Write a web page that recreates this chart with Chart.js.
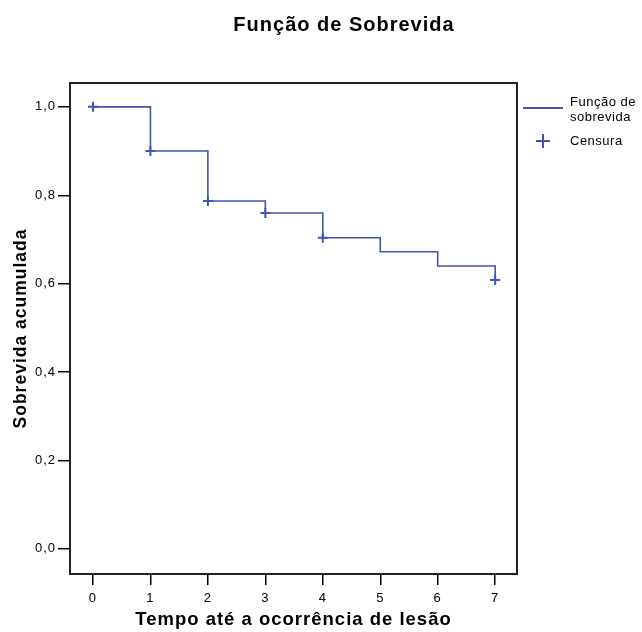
<!DOCTYPE html>
<html>
<head>
<meta charset="utf-8">
<script src="https://cdn.jsdelivr.net/npm/chart.js@4.4.1/dist/chart.umd.min.js"></script>
<style>
    body { margin: 0; background: #fff; }
    #wrap { position: relative; width: 642px; height: 632px; }
    #legend { position: absolute; left: 520px; top: 92px; width: 122px; font: 13px "Liberation Sans", Arial, sans-serif; letter-spacing: 0.5px; color: #000; }
    .swatch { position: absolute; left: 3px; top: 15px; width: 40px; height: 2px; background: #3f55b4; }
    .txt { position: absolute; left: 50px; top: 2px; line-height: 15px; white-space: nowrap; }
    .cross { position: absolute; left: 16px; top: 42px; width: 14px; height: 14px; }
    .cross:before { content: ''; position: absolute; left: 0; top: 6px; width: 14px; height: 2px; background: #3f55b4; }
    .cross:after { content: ''; position: absolute; left: 6px; top: 0; width: 2px; height: 14px; background: #3f55b4; }
</style>
</head>
<body>
<div id="wrap">
    <canvas id="survivalChart" width="642" height="632"></canvas>
    <div id="legend">
        <div class="swatch"></div>
        <div class="txt">Função de<br>sobrevida</div>
        <div class="cross"></div>
        <div class="txt" style="top: 41px;">Censura</div>
    </div>
</div>
<script>
const timePoints = [0, 1, 2, 3, 4, 5, 6, 7];
const survival = [1.0, 0.9, 0.787, 0.76, 0.704, 0.672, 0.64, 0.608];
const censorTimes = [0, 1, 2, 3, 4, 7];
const censorValues = [1.0, 0.9, 0.787, 0.76, 0.704, 0.608];
const xTicks = [0, 1, 2, 3, 4, 5, 6, 7];
const yTicks = [0, 0.2, 0.4, 0.6, 0.8, 1.0];

const blue = '#3f55b4';
const fontFamily = '"Liberation Sans", Arial, sans-serif';

const framePlugin = {
    id: 'frame',
    beforeDraw(chart) {
        // the reference text is a bit wider spaced than plain Arial
        chart.ctx.letterSpacing = '1px';
    },
    afterDraw(chart) {
        const ctx = chart.ctx;
        const a = chart.chartArea;
        ctx.save();
        ctx.strokeStyle = '#222';
        ctx.lineWidth = 2;
        ctx.strokeRect(a.left, a.top, a.right - a.left, a.bottom - a.top);
        // title
        ctx.fillStyle = '#000';
        ctx.font = 'bold 20px ' + fontFamily;
        ctx.textAlign = 'center';
        ctx.textBaseline = 'middle';
        ctx.fillText('Função de Sobrevida', 344, 25);
        ctx.restore();
    }
};

const ctx = document.getElementById('survivalChart').getContext('2d');

new Chart(ctx, {
    type: 'line',
    data: {
        datasets: [{
            label: 'Função de sobrevida',
            data: timePoints.map((t, i) => ({ x: t, y: survival[i] })),
            borderColor: blue,
            borderWidth: 1.6,
            stepped: 'before',
            pointRadius: 0,
            fill: false,
        }, {
            label: 'Censura',
            type: 'scatter',
            data: censorTimes.map((t, i) => ({ x: t, y: censorValues[i] })),
            pointStyle: 'cross',
            pointRadius: 5,
            borderColor: blue,
            borderWidth: 2,
            showLine: false,
        }],
    },
    options: {
        responsive: false,
        animation: false,
        layout: { padding: { top: 83, right: 125, left: 0, bottom: 0 } },
        plugins: {
            legend: { display: false },
            title: { display: false },
            tooltip: { enabled: false },
        },
        scales: {
            x: {
                type: 'linear',
                min: -0.4,
                max: 7.38,
                afterFit(s) { s.height = 58; },
                afterBuildTicks(s) { s.ticks = xTicks.map(v => ({ value: v })); },
                grid: { drawOnChartArea: false, drawTicks: true, tickLength: 11, color: '#000', lineWidth: 1.5 },
                border: { display: false },
                ticks: { color: '#000', padding: 6, font: { family: fontFamily, size: 13 }, maxRotation: 0 },
                title: { display: true, text: 'Tempo até a ocorrência de lesão', color: '#000', font: { family: fontFamily, size: 18.5, weight: 'bold' }, padding: { top: 0, bottom: 1 } },
            },
            y: {
                type: 'linear',
                min: -0.057,
                max: 1.054,
                afterFit(s) { s.width = 70; },
                afterBuildTicks(s) { s.ticks = yTicks.map(v => ({ value: v })); },
                grid: { drawOnChartArea: false, drawTicks: true, tickLength: 12, color: '#000', lineWidth: 1.5 },
                border: { display: false },
                ticks: {
                    color: '#000',
                    padding: 2,
                    font: { family: fontFamily, size: 13 },
                    callback: v => v.toFixed(1).replace('.', ','),
                },
                title: { display: true, text: 'Sobrevida acumulada', color: '#000', font: { family: fontFamily, size: 17.5, weight: 'bold' }, padding: { top: 11, bottom: 0 } },
            },
        },
    },
    plugins: [framePlugin],
});
</script>
</body>
</html>
